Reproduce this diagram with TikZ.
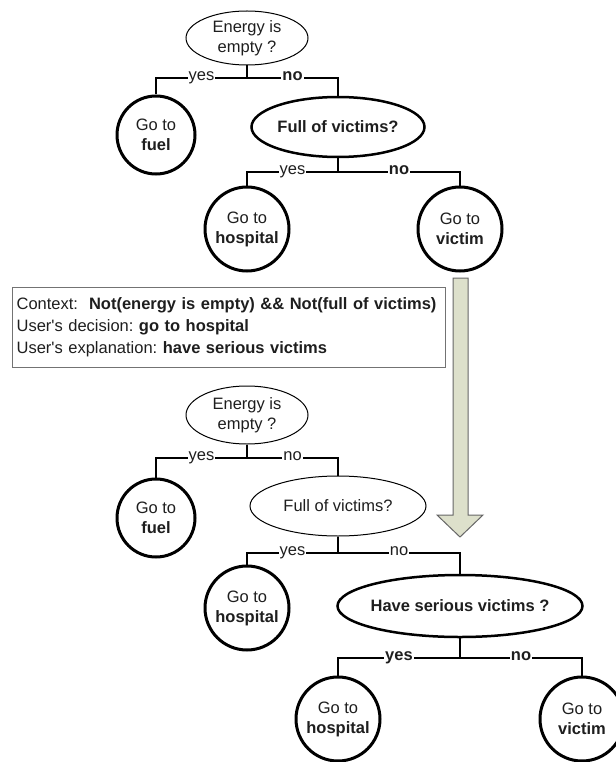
\documentclass[tikz,border=0pt]{standalone}
\usepackage{fontspec}
\setmainfont{Liberation Sans}[Ligatures=TeXOff]
\usetikzlibrary{shapes.geometric}
\definecolor{arrowfill}{HTML}{DDE0CB}
\definecolor{txt}{HTML}{1E1E1E}
\frenchspacing
\begin{document}
\begin{tikzpicture}[x=1pt,y=-1pt,
  every node/.style={font=\fontsize{16.5}{20}\selectfont, text=txt},
  q/.style={ellipse, draw, line width=1pt, inner sep=0pt, align=center},
  qb/.style={q, line width=2.5pt, font=\fontsize{16.5}{20}\selectfont\bfseries},
  act/.style={circle, draw, line width=3pt, inner sep=0pt, align=center},
  conn/.style={line width=1.5pt},
  connb/.style={line width=2.5pt},
  lbl/.style={fill=white, inner xsep=1pt, inner ysep=0pt, anchor=mid},
  lblb/.style={lbl, font=\fontsize{16.5}{20}\selectfont\bfseries}]
\useasboundingbox (0,0) rectangle (615,762);

% ---------- top tree ----------
\node[q, minimum width=122pt, minimum height=54pt] (e1) at (247,38) {Energy is\\empty ?};
\coordinate (j1) at (247,78);
\node[act, minimum size=78pt] (f1) at (156,135) {Go to\\\textbf{fuel}};
\node[qb, minimum width=173pt, minimum height=60pt] (e2) at (338,127) {Full of victims?};
\coordinate (j2) at (338,172);
\node[act, minimum size=84pt] (h1) at (247,229) {Go to\\\textbf{hospital}};
\node[act, minimum size=84pt] (v1) at (460,229) {Go to\\\textbf{victim}};

\draw[connb] (e1.south) -- (j1);
\draw[conn] (j1) -| node[lbl,pos=.25]{yes} (f1.north);
\draw[connb] (j1) -| node[lblb,pos=.25]{no} (e2.north);
\draw[conn] (e2.south) -- (j2);
\draw[conn] (j2) -| node[lbl,pos=.25]{yes} (h1.north);
\draw[conn] (j2) -| node[lblb,pos=.25]{no} (v1.north);

% ---------- context box ----------
\node[draw=black!55, line width=1.2pt, anchor=north west, minimum width=433pt,
      minimum height=80pt, text width=425pt, inner xsep=4pt, align=left,
      font=\fontsize{16.5}{22}\selectfont] (ctx) at (12,287)
  {Context:\ \ \textbf{Not(energy is empty) \&\& Not(full of victims)}\\
   User's decision: \textbf{go to hospital}\\
   User's explanation: \textbf{have serious victims}};

% ---------- big arrow ----------
\draw[fill=arrowfill, draw=black!60, line width=1pt]
  (453,278) -- (468,278) -- (468,515) -- (483,515) -- (460,537)
  -- (437,515) -- (453,515) -- cycle;

% ---------- bottom tree ----------
\node[q, minimum width=122pt, minimum height=58pt] (e3) at (247,415) {Energy is\\empty ?};
\coordinate (j3) at (247,458);
\node[act, minimum size=78pt] (f2) at (156,518) {Go to\\\textbf{fuel}};
\node[q, minimum width=176pt, minimum height=60pt] (e4) at (338,506) {Full of victims?};
\coordinate (j4) at (338,553);
\node[act, minimum size=84pt] (h2) at (247,608) {Go to\\\textbf{hospital}};
\node[qb, minimum width=245pt, minimum height=62pt, inner xsep=-6pt] (e5) at (460,606) {Have serious victims ?};
\coordinate (j5) at (460,658);
\node[act, minimum size=84pt] (h3) at (338,719) {Go to\\\textbf{hospital}};
\node[act, minimum size=84pt] (v2) at (582,719) {Go to\\\textbf{victim}};

\draw[conn] (e3.south) -- (j3);
\draw[conn] (j3) -| node[lbl,pos=.25]{yes} (f2.north);
\draw[conn] (j3) -| node[lbl,pos=.25]{no} (e4.north);
\draw[conn] (e4.south) -- (j4);
\draw[conn] (j4) -| node[lbl,pos=.25]{yes} (h2.north);
\draw[conn] (j4) -| node[lbl,pos=.25]{no} (e5.north);
\draw[connb] (e5.south) -- (j5);
\draw[connb] (j5) -| node[lblb,pos=.25]{yes} (h3.north);
\draw[connb] (j5) -| node[lblb,pos=.25]{no} (v2.north);
\end{tikzpicture}
\end{document}
